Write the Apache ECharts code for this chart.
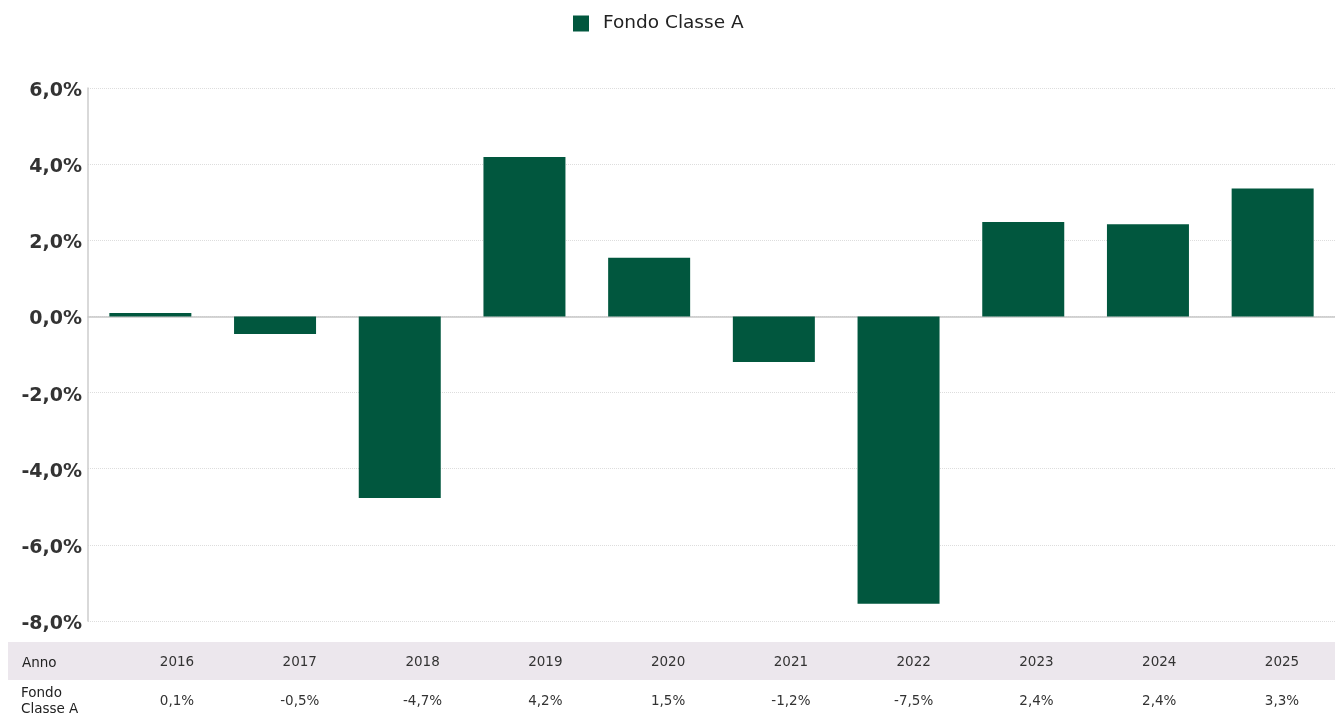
<!DOCTYPE html>
<html>
<head>
<meta charset="utf-8">
<script src="https://cdn.jsdelivr.net/npm/echarts@6/dist/echarts.min.js"></script>
<style>
  html, body { margin: 0; padding: 0; background: #fff; }
  #chart { width: 1335px; height: 715px; }
</style>
</head>
<body>
<div id="chart"></div>
<script>
var years = ['2016', '2017', '2018', '2019', '2020', '2021', '2022', '2023', '2024', '2025']
var fondoValues = [0.09, -0.46, -4.77, 4.19, 1.54, -1.2, -7.55, 2.48, 2.42, 3.36]
var tableLabels = ['0,1%', '-0,5%', '-4,7%', '4,2%', '1,5%', '-1,2%', '-7,5%', '2,4%', '2,4%', '3,3%']
var seriesName = 'Fondo Classe A'
var barColor = '#01573e'
var font = '"DejaVu Sans", Verdana, sans-serif'

var chart = echarts.init(document.getElementById('chart'))
chart.setOption({
  animation: false,
  textStyle: { fontFamily: font },
  legend: {
    data: [seriesName],
    top: 9,
    left: 568,
    itemWidth: 16,
    itemHeight: 16,
    icon: 'rect',
    textStyle: { fontSize: 18.5, color: '#222', padding: [0, 0, 0, 9] }
  },
  grid: [
    // plot area
    { left: 88, right: 0, top: 88, bottom: 94 },
    // data table columns: first to last column centre
    { left: 177, right: 53, top: 88, bottom: 94 }
  ],
  graphic: [
    {
      type: 'rect',
      z: -1,
      shape: { x: 8, y: 642, width: 1327, height: 38 },
      style: { fill: '#ece7ed' }
    },
    {
      type: 'text',
      left: 22,
      top: 656,
      style: { text: 'Anno', fontSize: 13.5, fill: '#222', fontFamily: font }
    },
    {
      type: 'text',
      left: 21,
      top: 685,
      style: { text: 'Fondo\nClasse A', fontSize: 13.5, lineHeight: 16, fill: '#222', fontFamily: font }
    }
  ],
  xAxis: [
    {
      type: 'category',
      data: years,
      gridIndex: 0,
      axisLine: { onZero: true, lineStyle: { color: '#c8c8c8', width: 1.5 } },
      axisTick: { show: false },
      axisLabel: { show: false },
      splitLine: { show: false }
    },
    {
      type: 'category',
      data: years,
      gridIndex: 1,
      boundaryGap: false,
      position: 'bottom',
      axisLine: { show: false, onZero: false },
      axisTick: { show: false },
      axisLabel: { margin: 34, fontSize: 13.5, color: '#333', interval: 0 }
    },
    {
      type: 'category',
      data: years,
      gridIndex: 1,
      boundaryGap: false,
      position: 'bottom',
      axisLine: { show: false, onZero: false },
      axisTick: { show: false },
      axisLabel: {
        margin: 73,
        fontSize: 13.5,
        color: '#333',
        interval: 0,
        formatter: function(v, i) { return tableLabels[i] }
      }
    }
  ],
  yAxis: [
    {
      type: 'value',
      gridIndex: 0,
      min: -8,
      max: 6,
      interval: 2,
      axisLine: { show: true, lineStyle: { color: '#cccccc', width: 1.5 } },
      axisTick: { show: false },
      axisLabel: {
        margin: 6,
        formatter: function(v) { return '{a|' + v.toFixed(1).replace('.', ',') + '%}' },
        rich: {
          a: { fontSize: 19, fontWeight: 'bold', color: '#333', padding: [6, 0, 0, 0], fontFamily: font }
        }
      },
      splitLine: { lineStyle: { color: '#dddddd', type: 'dotted' } }
    },
    {
      type: 'value',
      gridIndex: 1,
      show: false,
      splitLine: { show: false }
    }
  ],
  series: [
    {
      name: seriesName,
      type: 'bar',
      xAxisIndex: 0,
      yAxisIndex: 0,
      data: fondoValues,
      barWidth: 82,
      itemStyle: { color: barColor }
    }
  ]
})
</script>
</body>
</html>
